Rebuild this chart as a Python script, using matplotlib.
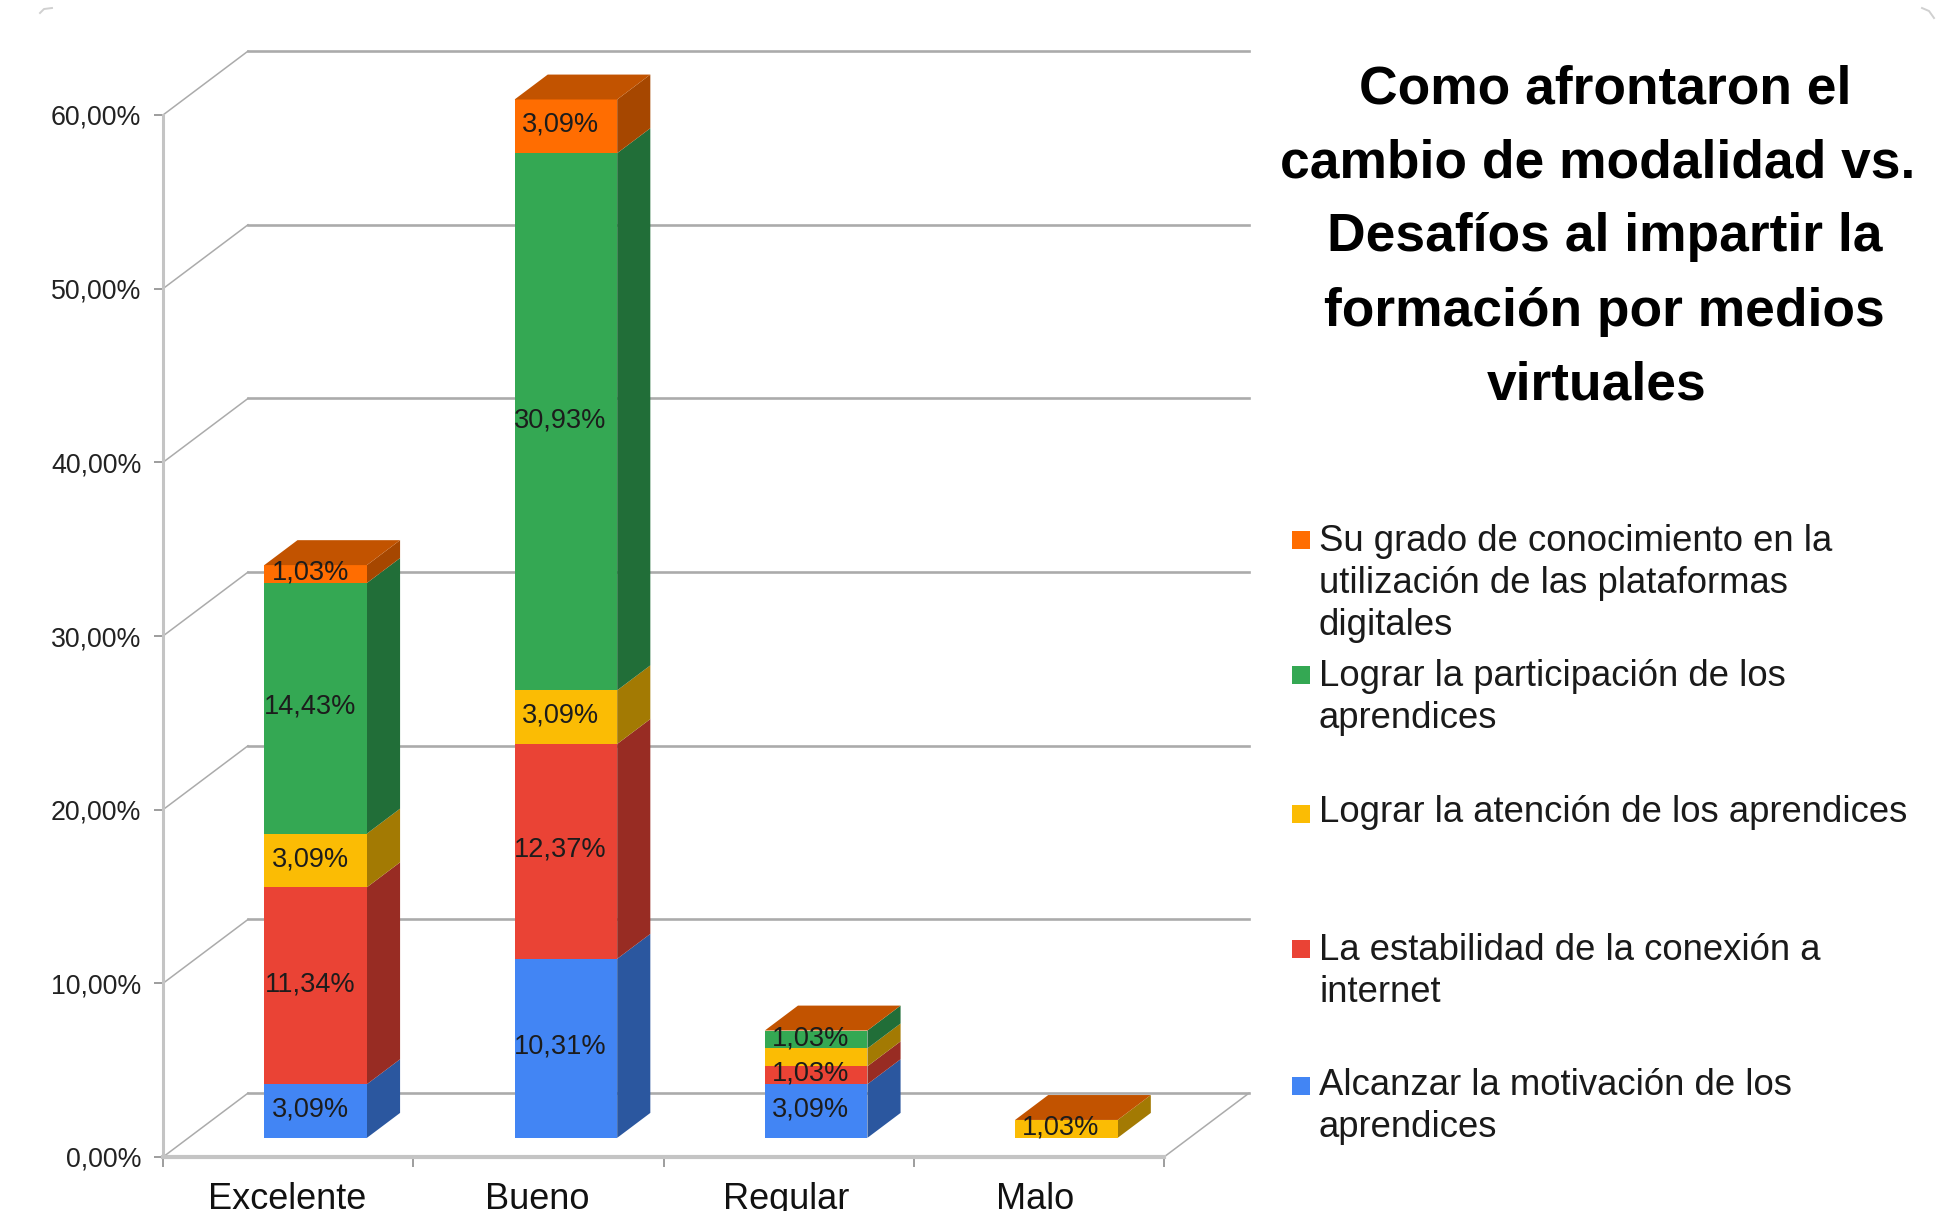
"""plot.py

Stacked pseudo-3D columns: coping with the change of modality vs. challenges.
"""

import matplotlib

matplotlib.use("Agg")
import matplotlib.pyplot as plt
from matplotlib.lines import Line2D
from matplotlib.patches import Rectangle

categories = ["Excelente", "Bueno", "Regular", "Malo"]
y_levels = [0, 10, 20, 30, 40, 50, 60]

# Series values, bottom to top of the stack
motivacion = [3.09, 10.31, 3.09, 0]
conexion = [11.34, 12.37, 1.03, 0]
atencion = [3.09, 3.09, 1.03, 1.03]
participacion = [14.43, 30.93, 1.03, 0]
plataformas = [1.03, 3.09, 0, 0]

series = [motivacion, conexion, atencion, participacion, plataformas]
front_colors = ["#4285F4", "#EA4335", "#FBBC04", "#34A853", "#FF6D01"]
side_colors = ["#2B579F", "#982C23", "#A37A03", "#216E38", "#A64700"]
top_color = "#C25300"

title_lines = [
    "Como afrontaron el",
    "cambio de modalidad vs.",
    "Desafíos al impartir la",
    "formación por medios",
    "virtuales",
]
legend_lines = [
    ["Su grado de conocimiento en la", "utilización de las plataformas", "digitales"],
    ["Lograr la participación de los", "aprendices"],
    ["Lograr la atención de los aprendices"],
    ["La estabilidad de la conexión a", "internet"],
    ["Alcanzar la motivación de los", "aprendices"],
]
legend_colors = ["#FF6D01", "#34A853", "#FBBC04", "#EA4335", "#4285F4"]

W, H = 1959, 1211
DEPTH_X = 85 / 250.25  # one full depth unit in category units
DEPTH_Y = 64 / 17.4  # one full depth unit in percent units
BAR_WIDTH = 0.41
BAR_SHIFT = 0.008
BAR_DEPTH_START = 0.3
BAR_DEPTH = 0.39
GRID = "#ababab"
AXIS = "#c4c4c4"

plt.rcParams["font.family"] = ["Liberation Sans", "DejaVu Sans"]


def project(x, y, depth):
    """Shift a data point back along the fake depth direction."""
    return x + depth * DEPTH_X, y + depth * DEPTH_Y


def face(ax, corners, color, zorder):
    xs, ys = zip(*corners)
    ax.fill(xs, ys, color=color, lw=0, zorder=zorder, clip_on=False)


def px(x, y):
    """Figure pixel position (origin top left) to figure fraction."""
    return x / W, 1 - y / H


fig = plt.figure(figsize=(W / 100, H / 100), dpi=100)
ax = fig.add_axes([163 / W, 1 - 1157 / H, 1001 / W, (1157 - 115) / H])
ax.set_xlim(0, 4)
ax.set_ylim(0, 60)
ax.patch.set_visible(False)
for spine in ax.spines.values():
    spine.set_visible(False)

# Back wall grid and left wall diagonals
for level in y_levels:
    back_l = project(0, level, 1)
    back_r = project(4, level, 1)
    ax.plot(
        [back_l[0], back_r[0]], [back_l[1], back_r[1]],
        color=GRID, lw=1.9, zorder=1, clip_on=False,
    )
    ax.plot(
        [0, back_l[0]], [level, back_l[1]],
        color=GRID, lw=1.1, zorder=1, clip_on=False,
    )
back_r = project(4, 0, 1)
ax.plot([4, back_r[0]], [0, back_r[1]], color=GRID, lw=1.1, zorder=1, clip_on=False)

# Front axis lines
ax.plot([0, 0], [0, 60], color=AXIS, lw=2.2, zorder=2, clip_on=False)
ax.plot([0, 4], [0, 0], color=AXIS, lw=3.0, zorder=2, clip_on=False)

# Columns
for i, cat in enumerate(categories):
    left = i + 0.5 + BAR_SHIFT - BAR_WIDTH / 2
    right = i + 0.5 + BAR_SHIFT + BAR_WIDTH / 2
    base = 0
    d0 = BAR_DEPTH_START
    d1 = BAR_DEPTH_START + BAR_DEPTH
    for s, values in enumerate(series):
        val = values[i]
        if val == 0:
            continue
        top = base + val
        face(
            ax,
            [project(right, base, d0), project(right, base, d1),
             project(right, top, d1), project(right, top, d0)],
            side_colors[s], 3,
        )
        face(
            ax,
            [project(left, base, d0), project(right, base, d0),
             project(right, top, d0), project(left, top, d0)],
            front_colors[s], 4,
        )
        # Regular has no visible label on its yellow segment
        if not (cat == "Regular" and values is atencion):
            ax.annotate(
                f"{val:.2f}".replace(".", ",") + "%",
                project(i + 0.5, base + val / 2, d0),
                xytext=(-2.5, 1), textcoords="offset points",
                ha="center", va="center", fontsize=19.5,
                color="#1c1c1c", zorder=6, annotation_clip=False,
            )
        base = top
    face(
        ax,
        [project(left, base, d0), project(right, base, d0),
         project(right, base, d1), project(left, base, d1)],
        top_color, 5,
    )

# Ticks and tick labels
ax.set_yticks(y_levels)
ax.set_yticklabels([f"{v:.2f}".replace(".", ",") + "%" for v in y_levels])
ax.tick_params(axis="y", length=6.5, width=1.2, color="#8c8c8c", pad=9,
               labelsize=19.3, labelcolor="#222222")
ax.set_xticks(range(len(categories) + 1))
ax.set_xticklabels([])
ax.tick_params(axis="x", length=7, width=1.2, color="#8c8c8c")
ax.set_xticks([(i + 0.5) * 0.996 for i in range(len(categories))], minor=True)
ax.set_xticklabels(categories, minor=True)
ax.tick_params(axis="x", which="minor", length=0, pad=18, labelsize=26,
               labelcolor="#111111")

# Title, one centred line at a time
title_centers = [1605, 1597.5, 1605, 1604, 1597]
for n, line in enumerate(title_lines):
    x, y = px(title_centers[n], 103 + 74.2 * n)
    fig.text(x, y, line, ha="center", va="baseline", fontsize=38.4,
             fontweight="bold", color="black")

# Legend, with hand placed entries like the original
legend_first_baseline = [551, 686, 822, 960, 1095]
legend_marker_top = [531, 666, 805, 940, 1077]
for n, lines in enumerate(legend_lines):
    x, y = px(1292, legend_marker_top[n] + 18)
    fig.add_artist(
        Rectangle((x, y), 18 / W, 18 / H, transform=fig.transFigure,
                  color=legend_colors[n], lw=0)
    )
    for k, line in enumerate(lines):
        x, y = px(1319, legend_first_baseline[n] + 42 * k)
        fig.text(x, y, line, ha="left", va="baseline", fontsize=26.3,
                 color="#1a1a1a")

# Faint leftovers of the rounded slide border
for xs, ys in [([40, 44, 52], [13, 9, 8]), ([1922, 1929, 1934], [8, 11, 18])]:
    pts = [px(a, b) for a, b in zip(xs, ys)]
    fig.add_artist(
        Line2D([p[0] for p in pts], [p[1] for p in pts],
               color="#d0d0d0", lw=1.4, transform=fig.transFigure)
    )

fig.savefig("out.png", dpi=100, facecolor="white")
